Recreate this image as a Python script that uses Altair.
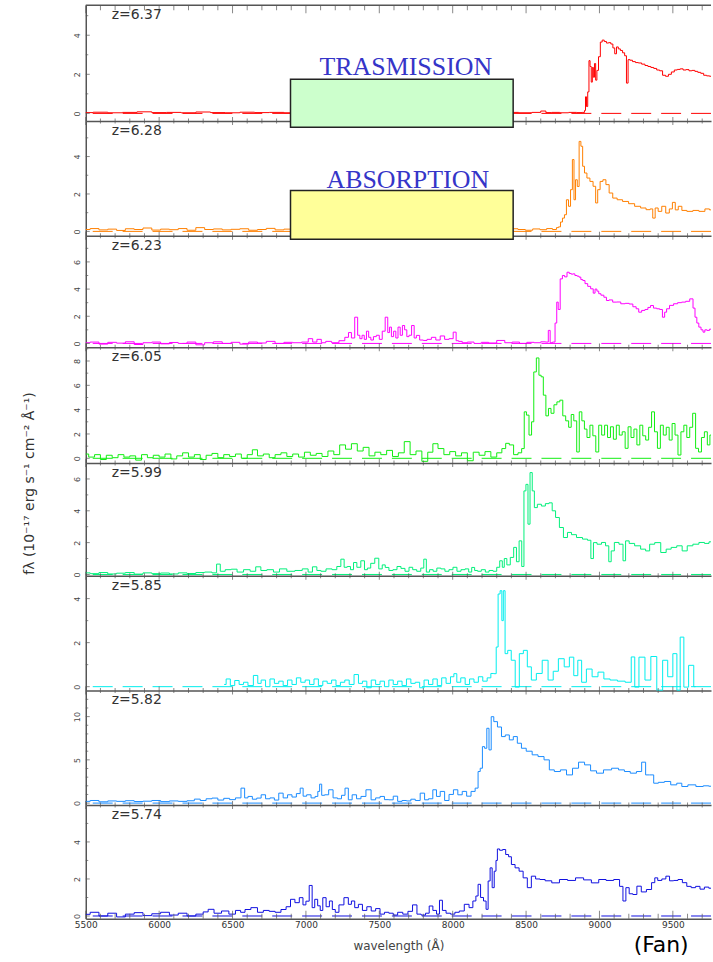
import altair as alt
import pandas as pd

# ---------------- panel metadata ----------------
z_labels = ["z=6.37", "z=6.28", "z=6.23", "z=6.05", "z=5.99", "z=5.85", "z=5.82", "z=5.74"]
line_colors = ["#ff0000", "#ff8000", "#ff00ff", "#11ee11", "#00f07a", "#00eeee", "#1a8cff", "#1010e0"]
y_domains = [[-0.39, 5.53], [-0.23, 5.90], [-0.29, 7.93], [-0.39, 9.12],
             [-0.08, 7.00], [-0.17, 5.04], [-0.23, 13.03], [-0.15, 5.99]]
panel_heights = [116, 115, 112, 116, 113, 115, 115, 114]
y_major_ticks = [[0, 2, 4], [0, 2, 4], [0, 2, 4, 6], [0, 2, 4, 6, 8],
                 [0, 2, 4, 6], [0, 2, 4], [0, 5, 10], [0, 2, 4]]
y_minor_ticks = [[1, 3, 5], [1, 3, 5], [1, 3, 5, 7], [1, 3, 5, 7, 9],
                 [1, 3, 5], [1, 3], [1, 2, 3, 4, 6, 7, 8, 9, 11, 12], [1, 3, 5]]
x_domain = [5500, 9760]
x_major_ticks = [5500, 6000, 6500, 7000, 7500, 8000, 8500, 9000, 9500]
x_minor_ticks = [5600, 5700, 5800, 5900, 6100, 6200, 6300, 6400, 6600, 6700, 6800, 6900,
                 7100, 7200, 7300, 7400, 7600, 7700, 7800, 7900, 8100, 8200, 8300, 8400,
                 8600, 8700, 8800, 8900, 9100, 9200, 9300, 9400, 9600, 9700]

y_title_text = "fλ (10⁻¹⁷ erg s⁻¹ cm⁻² Å⁻¹)"
x_title_text = "wavelength (Å)"

# annotation boxes (panel 1 and panel 2, data coordinates)
box_labels = ["TRASMISSION", "ABSORPTION"]
box_fills = ["#ccffcc", "#ffff99"]
box_x = [6895, 8412]
box_y = [[-0.71, 1.75], [-0.42, 2.18]]
box_text_pos = [[7681, 1.95], [7694, 2.32]]

# ---------------- spectra (wavelength Å, flux) ----------------
spec_p1 = [(5500,0.04),(5600,0.06),(5700,0.03),(5800,0.05),(5900,0.08),(6000,0.04),(6100,0.05),(6200,0.03),
 (6300,0.07),(6400,0.04),(6500,0.03),(6600,0.06),(6700,0.04),(6800,0.05),(6900,0.03),(7000,0.05),(7100,0.04),
 (7200,0.06),(7300,0.03),(7400,0.05),(7500,0.04),(7600,0.06),(7700,0.03),(7800,0.05),(7900,0.04),(8000,0.06),
 (8100,0.03),(8200,0.05),(8300,0.04),(8400,0.05),(8500,0.03),(8580,0.05),(8620,0.12),(8650,0.04),(8700,0.05),
 (8760,0.03),(8820,0.05),(8870,0.04),(8895,0.05),(8902,0.15),(8908,0.85),(8915,0.35),(8925,1.10),(8932,2.70),
 (8940,2.40),(8948,1.60),(8955,2.35),(8962,1.85),(8970,2.55),(8978,1.70),(8987,2.20),(9000,2.90),(9012,3.65),
 (9025,3.75),(9040,3.68),(9055,3.60),(9070,3.62),(9085,3.55),(9098,3.35),(9110,3.05),(9122,3.40),(9135,3.30),
 (9150,3.22),(9165,3.10),(9178,2.95),(9190,1.55),(9200,2.75),(9215,2.72),(9235,2.65),(9255,2.60),(9275,2.58),
 (9300,2.52),(9320,2.45),(9340,2.40),(9360,2.35),(9380,2.30),(9400,2.22),(9420,2.18),(9440,1.95),(9460,1.90),
 (9480,2.00),(9500,2.12),(9520,2.22),(9540,2.25),(9560,2.28),(9580,2.22),(9600,2.24),(9620,2.18),(9640,2.20),
 (9660,2.15),(9680,2.10),(9700,2.05),(9720,1.95),(9740,1.92),(9760,1.90)]

spec_p2 = [(5500,0.10),(5560,0.15),(5620,0.08),(5680,0.12),(5740,0.05),(5800,0.14),(5860,0.10),(5920,0.18),
 (5980,0.07),(6040,0.12),(6100,0.09),(6160,0.15),(6220,0.06),(6280,0.20),(6340,0.10),(6400,0.13),(6460,0.08),
 (6520,0.11),(6580,0.14),(6640,0.06),(6700,0.10),(6760,0.16),(6820,0.08),(6880,0.12),(6950,0.10),(7050,0.12),
 (7150,0.10),(7250,0.14),(7350,0.10),(7450,0.12),(7550,0.08),(7650,0.15),(7750,0.10),(7850,0.12),(7950,0.09),
 (8050,0.13),(8150,0.10),(8250,0.12),(8350,0.08),(8420,0.14),(8470,0.10),(8520,0.06),(8570,0.13),(8620,0.09),
 (8660,0.15),(8700,0.10),(8714,0.20),(8728,0.24),(8741,0.50),(8755,0.71),(8768,0.89),(8782,1.69),(8796,1.34),
 (8810,2.23),(8821,3.84),(8832,1.69),(8842,2.76),(8856,2.40),(8867,4.81),(8880,4.55),(8891,3.48),(8905,3.12),
 (8924,2.85),(8946,2.67),(8967,2.41),(8981,1.52),(8995,2.23),(9014,2.67),(9033,2.76),(9055,2.50),(9077,2.05),
 (9104,1.78),(9137,1.69),(9178,1.60),(9219,1.48),(9260,1.34),(9301,1.25),(9334,1.16),(9356,1.20),(9370,0.71),
 (9389,1.25),(9411,1.07),(9438,1.34),(9465,0.98),(9487,1.20),(9507,1.55),(9526,1.15),(9548,1.34),(9575,1.12),
 (9616,1.07),(9657,1.12),(9698,1.07),(9739,1.20),(9760,1.15)]

spec_p3 = [(5500,0.05),(5560,0.10),(5620,-0.05),(5680,0.08),(5740,0.02),(5800,0.12),(5860,-0.08),(5920,0.05),
 (5980,0.10),(6040,-0.03),(6100,0.07),(6160,0.00),(6220,0.10),(6280,-0.10),(6340,0.05),(6400,0.12),(6460,0.00),
 (6520,0.08),(6580,-0.05),(6640,0.10),(6700,0.03),(6760,0.15),(6820,0.00),(6880,0.08),(6940,0.05),(7000,0.10),
 (7032,0.35),(7060,0.10),(7090,0.30),(7120,0.05),(7150,0.15),(7200,0.05),(7250,0.20),(7280,0.45),(7300,0.80),
 (7320,0.40),(7345,1.93),(7360,0.60),(7375,0.35),(7390,0.60),(7405,0.30),(7420,0.90),(7435,0.45),(7450,0.25),
 (7470,0.50),(7490,0.60),(7510,0.30),(7530,0.90),(7550,1.93),(7565,0.80),(7575,1.20),(7590,0.50),(7605,0.90),
 (7620,0.40),(7635,1.20),(7650,0.60),(7665,1.32),(7680,1.00),(7695,0.50),(7710,0.60),(7730,1.32),(7745,0.40),
 (7760,0.59),(7790,0.25),(7810,0.22),(7840,0.30),(7870,0.45),(7900,0.25),(7930,0.55),(7960,0.30),(7990,0.35),
 (8017,0.83),(8030,0.20),(8050,0.15),(8080,0.05),(8120,0.10),(8170,0.00),(8220,0.08),(8270,0.03),(8330,0.22),
 (8380,0.05),(8430,0.10),(8480,0.00),(8530,0.08),(8580,0.05),(8620,0.12),(8645,0.10),(8658,0.96),(8670,0.05),
 (8690,0.10),(8705,1.50),(8713,3.04),(8725,2.50),(8740,4.75),(8755,5.00),(8770,4.90),(8788,5.24),(8800,5.15),
 (8815,5.10),(8825,5.12),(8840,5.00),(8855,4.95),(8866,4.88),(8880,4.70),(8893,4.63),(8910,4.40),(8930,4.20),
 (8950,4.02),(8965,3.70),(8975,4.00),(8990,3.85),(9000,3.66),(9020,3.55),(9040,3.40),(9055,3.16),(9075,3.20),
 (9105,3.04),(9130,3.05),(9160,2.92),(9190,2.95),(9215,2.90),(9240,2.70),(9260,2.55),(9275,2.30),(9300,2.43),
 (9320,2.50),(9340,2.65),(9356,2.79),(9380,2.60),(9400,2.55),(9420,2.50),(9438,1.93),(9450,2.30),(9465,2.55),
 (9490,2.80),(9520,2.92),(9545,3.00),(9575,3.04),(9600,3.10),(9630,3.28),(9645,2.60),(9657,1.93),(9670,1.50),
 (9684,1.20),(9700,1.00),(9711,0.83),(9725,1.00),(9740,0.96),(9760,1.05)]

spec_p4 = [(5500,0.35),(5540,0.10),(5580,0.30),(5620,-0.10),(5660,0.25),(5700,0.05),(5740,0.30),(5780,0.10),
 (5820,0.20),(5860,-0.15),(5900,0.30),(5940,0.05),(5980,0.25),(6020,0.10),(6060,0.35),(6100,-0.05),(6140,0.20),
 (6180,0.45),(6220,0.10),(6260,0.30),(6300,-0.10),(6340,0.25),(6380,0.40),(6420,0.05),(6460,0.30),(6500,0.15),
 (6540,0.35),(6580,0.00),(6620,0.30),(6650,0.70),(6690,0.20),(6730,0.35),(6770,0.05),(6810,0.30),(6850,0.45),
 (6890,0.15),(6930,0.35),(6970,0.10),(7010,0.50),(7050,0.25),(7090,0.40),(7130,0.15),(7170,0.60),(7210,0.30),
 (7250,1.10),(7290,0.75),(7330,1.20),(7370,0.60),(7410,0.90),(7450,0.20),(7490,0.50),(7530,0.30),(7570,0.65),
 (7610,0.15),(7650,0.45),(7690,1.37),(7730,0.30),(7770,0.60),(7810,-0.25),(7850,0.50),(7880,1.20),(7920,0.80),
 (7960,0.30),(8000,0.55),(8040,0.20),(8080,0.45),(8120,-0.20),(8160,0.50),(8200,0.25),(8240,0.55),(8280,0.10),
 (8320,0.45),(8350,0.80),(8372,1.23),(8400,1.10),(8430,0.30),(8460,0.45),(8480,0.80),(8495,3.82),(8510,3.55),
 (8530,1.91),(8545,3.00),(8560,7.10),(8580,8.25),(8595,6.83),(8610,6.70),(8625,5.19),(8645,3.49),(8660,4.10),
 (8680,3.70),(8700,4.40),(8720,4.64),(8740,4.78),(8760,3.49),(8780,3.08),(8800,2.55),(8815,3.60),(8835,3.08),
 (8855,0.52),(8870,3.82),(8890,3.08),(8905,2.40),(8925,1.71),(8945,2.72),(8965,1.85),(8985,0.52),(9005,2.72),
 (9025,1.91),(9045,2.72),(9065,1.71),(9085,2.59),(9105,1.57),(9125,2.72),(9145,1.91),(9165,2.18),(9185,0.82),
 (9205,2.59),(9225,1.71),(9245,2.40),(9265,1.10),(9285,2.72),(9305,1.85),(9325,1.50),(9345,2.55),(9365,3.82),
 (9385,2.18),(9405,0.82),(9425,2.72),(9445,1.91),(9465,2.55),(9485,1.50),(9505,2.86),(9525,1.91),(9545,0.27),
 (9565,2.18),(9585,2.72),(9605,1.71),(9625,2.55),(9645,3.70),(9665,0.82),(9685,0.52),(9705,1.71),(9725,2.18),
 (9745,1.10),(9760,1.91)]

spec_p5 = [(5500,0.10),(5560,0.05),(5620,0.12),(5680,0.03),(5740,0.08),(5800,0.12),(5860,0.02),(5920,0.10),
 (5980,0.05),(6040,0.09),(6100,0.03),(6160,0.10),(6220,0.06),(6280,0.12),(6340,0.15),(6380,0.10),(6403,0.65),
 (6430,0.20),(6470,0.30),(6512,0.33),(6550,0.15),(6600,0.30),(6640,0.20),(6676,0.48),(6710,0.25),(6758,0.30),
 (6800,0.15),(6840,0.35),(6900,0.20),(6950,0.25),(7000,0.35),(7030,0.15),(7059,0.48),(7090,0.25),(7114,0.20),
 (7160,0.35),(7196,0.30),(7225,0.50),(7251,0.96),(7270,0.45),(7292,0.50),(7315,0.30),(7334,0.75),(7360,0.45),
 (7388,0.86),(7410,0.30),(7428,0.40),(7455,0.70),(7483,1.02),(7510,0.35),(7530,0.60),(7551,0.44),(7580,0.25),
 (7606,0.30),(7635,0.50),(7660,0.38),(7690,0.20),(7715,0.45),(7740,0.30),(7770,0.20),(7795,0.40),(7811,0.96),
 (7830,0.15),(7855,0.30),(7879,0.20),(7905,0.40),(7934,0.35),(7960,0.20),(7989,0.30),(8015,0.45),(8043,0.20),
 (8070,0.30),(8098,0.35),(8120,0.15),(8139,0.44),(8160,0.25),(8180,0.20),(8210,0.30),(8235,0.15),(8260,0.25),
 (8290,0.20),(8310,0.45),(8331,0.86),(8345,0.45),(8358,1.00),(8380,0.60),(8405,1.07),(8426,1.70),(8443,0.80),
 (8462,2.11),(8479,0.50),(8492,5.25),(8506,5.66),(8520,3.16),(8534,6.40),(8550,5.25),(8563,4.20),(8591,4.41),
 (8618,4.30),(8645,4.45),(8667,4.50),(8689,4.00),(8713,3.58),(8741,2.95),(8768,2.32),(8796,2.64),(8823,2.50),
 (8864,2.32),(8905,2.22),(8932,2.15),(8951,1.00),(8967,2.00),(9000,1.90),(9028,2.01),(9055,1.80),(9072,0.80),
 (9088,1.48),(9115,2.01),(9151,1.90),(9170,0.86),(9186,2.11),(9219,1.95),(9260,1.80),(9301,1.59),(9328,1.48),
 (9356,1.90),(9397,2.00),(9438,1.38),(9471,1.59),(9506,1.70),(9547,1.80),(9580,1.48),(9616,1.80),(9657,1.90),
 (9698,2.01),(9733,1.95),(9760,2.05)]

spec_p6 = [(6443,0.10),(6470,0.35),(6500,0.05),(6530,0.28),(6560,0.10),(6590,0.20),(6620,0.05),(6664,0.51),
 (6680,0.15),(6710,0.30),(6740,0.00),(6770,0.35),(6800,0.15),(6830,0.25),(6860,0.05),(6890,0.30),(6920,0.10),
 (6950,0.40),(6980,0.20),(7010,0.30),(7040,0.10),(7070,0.35),(7100,0.05),(7130,0.25),(7160,0.15),(7190,0.30),
 (7220,0.05),(7250,0.20),(7280,0.30),(7310,0.10),(7346,0.55),(7370,0.15),(7400,0.25),(7430,-0.05),(7460,0.30),
 (7490,0.10),(7520,0.25),(7550,0.00),(7580,0.30),(7610,0.10),(7640,0.25),(7670,0.05),(7700,0.35),(7730,0.15),
 (7760,0.20),(7790,-0.05),(7820,0.30),(7850,0.10),(7880,0.35),(7910,0.05),(7940,0.40),(7970,0.15),(8000,0.45),
 (8016,0.59),(8040,0.20),(8070,0.40),(8100,0.10),(8130,0.35),(8160,0.20),(8190,0.45),(8220,0.25),(8250,0.40),
 (8270,0.60),(8290,0.59),(8303,1.80),(8316,4.21),(8330,4.36),(8340,3.00),(8350,4.36),(8364,1.50),(8386,1.65),
 (8412,1.20),(8440,-0.02),(8468,1.50),(8495,1.65),(8522,0.90),(8550,0.30),(8590,0.60),(8630,1.20),(8670,0.30),
 (8700,0.70),(8740,1.27),(8780,0.90),(8810,1.34),(8840,0.50),(8865,1.20),(8892,0.20),(8930,0.80),(8970,0.45),
 (9010,0.66),(9050,0.35),(9095,0.30),(9150,0.25),(9200,0.20),(9233,1.35),(9248,-0.02),(9290,1.34),(9330,0.30),
 (9370,1.37),(9411,-0.16),(9450,1.20),(9480,0.45),(9520,1.50),(9535,-0.16),(9565,2.25),(9585,-0.02),(9630,0.97),
 (9655,0.00)]

spec_p7 = [(5500,0.20),(5560,0.30),(5620,0.15),(5680,0.25),(5740,0.20),(5800,0.28),(5860,0.18),(5920,0.22),
 (5980,0.30),(6040,0.17),(6100,0.25),(6160,0.20),(6220,0.27),(6260,0.46),(6300,0.30),(6340,0.50),(6380,0.58),
 (6420,0.35),(6460,0.55),(6500,0.40),(6540,0.60),(6575,1.73),(6590,0.60),(6620,0.77),(6650,0.45),(6680,0.58),
 (6710,0.96),(6740,0.50),(6770,0.60),(6800,0.35),(6830,1.15),(6860,0.60),(6890,0.96),(6920,0.70),(6950,1.10),
 (6972,1.73),(6990,0.80),(7020,0.96),(7050,0.60),(7075,0.77),(7087,1.35),(7100,2.19),(7115,0.90),(7140,0.96),
 (7170,1.54),(7200,0.60),(7230,0.50),(7255,0.90),(7278,1.73),(7300,0.38),(7330,0.96),(7360,0.50),(7390,0.77),
 (7428,1.54),(7460,0.38),(7490,0.60),(7520,0.77),(7550,0.40),(7580,0.38),(7610,0.80),(7640,0.20),(7670,0.30),
 (7700,0.25),(7730,0.45),(7760,0.30),(7797,1.15),(7820,0.38),(7850,0.50),(7879,1.54),(7900,0.77),(7930,1.35),
 (7960,0.30),(7990,1.00),(8020,1.54),(8050,0.96),(8080,1.35),(8110,0.80),(8140,1.35),(8166,1.73),(8180,3.65),
 (8195,4.03),(8210,6.53),(8225,6.34),(8240,8.65),(8255,6.15),(8270,9.99),(8290,9.42),(8320,8.80),(8345,7.69),
 (8372,7.88),(8400,7.31),(8426,7.69),(8455,6.92),(8482,6.34),(8520,6.00),(8563,5.58),(8600,5.38),(8645,5.00),
 (8672,3.84),(8713,3.65),(8755,3.84),(8796,3.26),(8837,4.03),(8878,4.73),(8919,4.42),(8960,3.73),(9000,3.46),
 (9055,3.84),(9110,4.03),(9150,3.84),(9190,3.65),(9230,3.46),(9274,3.65),(9301,4.73),(9328,3.26),(9356,3.26),
 (9383,2.30),(9420,2.40),(9465,2.50),(9506,2.11),(9547,2.30),(9575,1.92),(9630,2.11),(9684,1.92),(9730,2.00),
 (9760,1.95)]

spec_p8 = [(5500,0.09),(5560,0.20),(5620,0.00),(5680,0.15),(5740,-0.05),(5800,0.10),(5860,0.18),(5920,0.02),
 (5980,0.12),(6040,0.20),(6100,0.05),(6160,0.15),(6220,0.00),(6280,0.10),(6320,0.22),(6348,0.36),(6400,0.15),
 (6450,0.27),(6500,0.10),(6540,0.30),(6570,0.20),(6600,0.35),(6650,0.45),(6690,0.20),(6730,0.30),(6770,0.25),
 (6810,0.20),(6850,0.35),(6880,0.50),(6910,0.90),(6940,0.72),(6970,0.99),(6990,0.60),(7010,0.80),(7035,1.65),
 (7050,0.45),(7070,0.90),(7090,0.55),(7105,0.30),(7125,0.99),(7150,0.50),(7170,0.81),(7190,0.35),(7210,0.20),
 (7240,0.60),(7278,0.99),(7300,0.63),(7320,0.81),(7345,0.45),(7370,0.63),(7400,0.30),(7430,0.50),(7460,0.27),
 (7490,0.40),(7520,0.10),(7550,0.20),(7580,0.15),(7610,0.05),(7640,0.20),(7680,0.10),(7710,0.25),(7743,0.60),
 (7770,0.10),(7800,0.05),(7830,0.15),(7850,0.54),(7880,0.30),(7900,0.10),(7920,0.85),(7940,0.30),(7970,0.15),
 (8000,0.10),(8030,0.20),(8060,0.27),(8098,0.63),(8125,0.45),(8150,0.81),(8166,1.08),(8180,1.71),(8200,1.00),
 (8220,0.81),(8235,0.36),(8248,1.89),(8262,2.60),(8276,1.53),(8290,2.42),(8300,3.00),(8309,3.62),(8330,3.55),
 (8350,3.59),(8372,3.32),(8390,3.20),(8410,2.78),(8440,2.60),(8465,2.42),(8495,2.06),(8522,1.53),(8550,2.15),
 (8580,2.00),(8610,1.97),(8650,1.90),(8700,1.79),(8755,1.97),(8810,1.92),(8864,2.06),(8920,1.95),(8970,1.79),
 (9020,1.97),(9070,1.92),(9124,1.97),(9150,1.60),(9170,0.81),(9190,1.53),(9215,1.20),(9240,1.16),(9270,1.61),
 (9300,1.30),(9340,1.43),(9370,1.80),(9384,2.06),(9410,1.92),(9440,2.00),(9465,2.15),(9490,1.90),(9520,1.92),
 (9550,1.97),(9580,1.80),(9610,1.60),(9640,1.53),(9670,1.60),(9700,1.45),(9730,1.56),(9760,1.50)]

spectra = [spec_p1, spec_p2, spec_p3, spec_p4, spec_p5, spec_p6, spec_p7, spec_p8]

# ---------------- styling ----------------
AX = "#555555"
FONT = "DejaVu Sans"
PLOT_W = 627
TITLE_PANEL = 4
x_scale = alt.Scale(domain=x_domain, nice=False, zero=False)


def build_panel(i):
    n = len(spectra)
    first, last = i == 0, i == n - 1
    color = line_colors[i]
    ys = alt.Scale(domain=y_domains[i], nice=False, zero=False)
    spec = pd.DataFrame(spectra[i], columns=["wl", "f"])

    x_axis_kw = dict(values=x_major_ticks, ticks=False, grid=False, domain=True,
                     domainColor=AX, domainWidth=1.5, labels=last, labelFlush=False, format="d")
    if last:
        x_axis_kw.update(labelFontSize=9, labelFont=FONT, labelColor="#333", labelPadding=2,
                         titleFont=FONT, titleFontSize=12, titleFontWeight="normal",
                         titleColor="#444", titlePadding=11)
    y_axis_kw = dict(values=y_major_ticks[i], ticks=False, grid=False, domain=True,
                     domainColor=AX, domainWidth=1.5, labelAngle=-90, labelAlign="center",
                     labelBaseline="bottom", labelFontSize=8, labelFont=FONT,
                     labelColor="#444", labelPadding=4, format="d")
    if i == TITLE_PANEL:
        y_axis_kw.update(titleX=-56, titleY=20, titleAngle=270, titleAlign="center",
                         titleBaseline="middle", titleFontSize=14, titleFont=FONT,
                         titleFontWeight="normal", titleColor="#333")
    x_title = x_title_text if last else None
    y_title = y_title_text if i == TITLE_PANEL else None

    # identical axis definitions on every layer so that the shared axes merge cleanly
    def xf(field):
        return alt.X(field, scale=x_scale, axis=alt.Axis(**x_axis_kw), title=x_title)

    def yf(field):
        return alt.Y(field, scale=ys, axis=alt.Axis(**y_axis_kw), title=y_title)

    def xd(val):
        return alt.XDatum(val, scale=x_scale, axis=alt.Axis(**x_axis_kw), title=x_title)

    def yd(val):
        return alt.YDatum(val, scale=ys, axis=alt.Axis(**y_axis_kw), title=y_title)

    def x_ticks(vals, yval, size, offset):
        return alt.Chart(pd.DataFrame({"t": vals})).mark_tick(
            orient="vertical", thickness=1, color=AX, yOffset=offset
        ).encode(x=xf("t:Q"), y=yd(yval), size=alt.value(size))

    def y_ticks(vals, size):
        return alt.Chart(pd.DataFrame({"v": vals})).mark_tick(
            orient="horizontal", thickness=1, color=AX, xOffset=size / 2
        ).encode(y=yf("v:Q"), x=xd(x_domain[0]), size=alt.value(size))

    zero = alt.Chart(pd.DataFrame({"zero": [0.0]})).mark_rule(
        color=color, strokeWidth=1, strokeDash=[20, 10]
    ).encode(y=yf("zero:Q"))

    line = alt.Chart(spec).mark_line(interpolate="step", color=color, strokeWidth=1).encode(
        x=xf("wl:Q"), y=yf("f:Q"))

    ymin, ymax = y_domains[i]
    layers = [zero, line]
    if last:
        layers += [x_ticks(x_major_ticks, ymin, 8, -4), x_ticks(x_minor_ticks, ymin, 5, -2.5)]
    else:
        layers += [x_ticks(x_major_ticks, ymin, 8, 0), x_ticks(x_minor_ticks, ymin, 5, 0)]
    if first:
        top = alt.Chart(pd.DataFrame({"top": [ymax]})).mark_rule(
            color=AX, strokeWidth=1.5).encode(y=yf("top:Q"))
        layers += [top, x_ticks(x_major_ticks, ymax, 8, 4), x_ticks(x_minor_ticks, ymax, 5, 2.5)]
    layers += [y_ticks(y_major_ticks[i], 4), y_ticks(y_minor_ticks[i], 2.5)]

    zlab = alt.Chart(pd.DataFrame({"lab": [z_labels[i]]})).mark_text(
        align="left", baseline="middle", font=FONT, fontSize=14, color="#333"
    ).encode(x=alt.value(26), y=alt.value(10), text="lab:N")
    layers.append(zlab)

    if i < 2:
        bdf = pd.DataFrame({"x1": [box_x[0]], "x2": [box_x[1]],
                            "y1": [box_y[i][0]], "y2": [box_y[i][1]]})
        box = alt.Chart(bdf).mark_rect(fill=box_fills[i], stroke="#222", strokeWidth=1.5).encode(
            x=xf("x1:Q"), x2="x2:Q", y=yf("y1:Q"), y2="y2:Q")
        tdf = pd.DataFrame({"tx": [box_text_pos[i][0]], "ty": [box_text_pos[i][1]],
                            "lab": [box_labels[i]]})
        txt = alt.Chart(tdf).mark_text(
            font="Liberation Serif", fontSize=26, color="#3535c8",
            align="center", baseline="alphabetic"
        ).encode(x=xf("tx:Q"), y=yf("ty:Q"), text="lab:N")
        layers += [box, txt]

    if last:
        fan = alt.Chart(pd.DataFrame({"lab": ["(Fan)"]})).mark_text(
            font=FONT, fontSize=22, color="#000", align="center", baseline="middle"
        ).encode(x=alt.value(577), y=alt.value(140), text="lab:N")
        layers.append(fan)

    return alt.layer(*layers).properties(width=PLOT_W, height=panel_heights[i])


panels = [build_panel(i) for i in range(len(spectra))]

chart = alt.vconcat(*panels, spacing=0, bounds="flush").properties(
    padding={"left": 22, "top": 3, "right": 0, "bottom": 0}
).configure_view(strokeWidth=0)

chart.save("out.html", embed_options={"renderer": "svg", "actions": False})
